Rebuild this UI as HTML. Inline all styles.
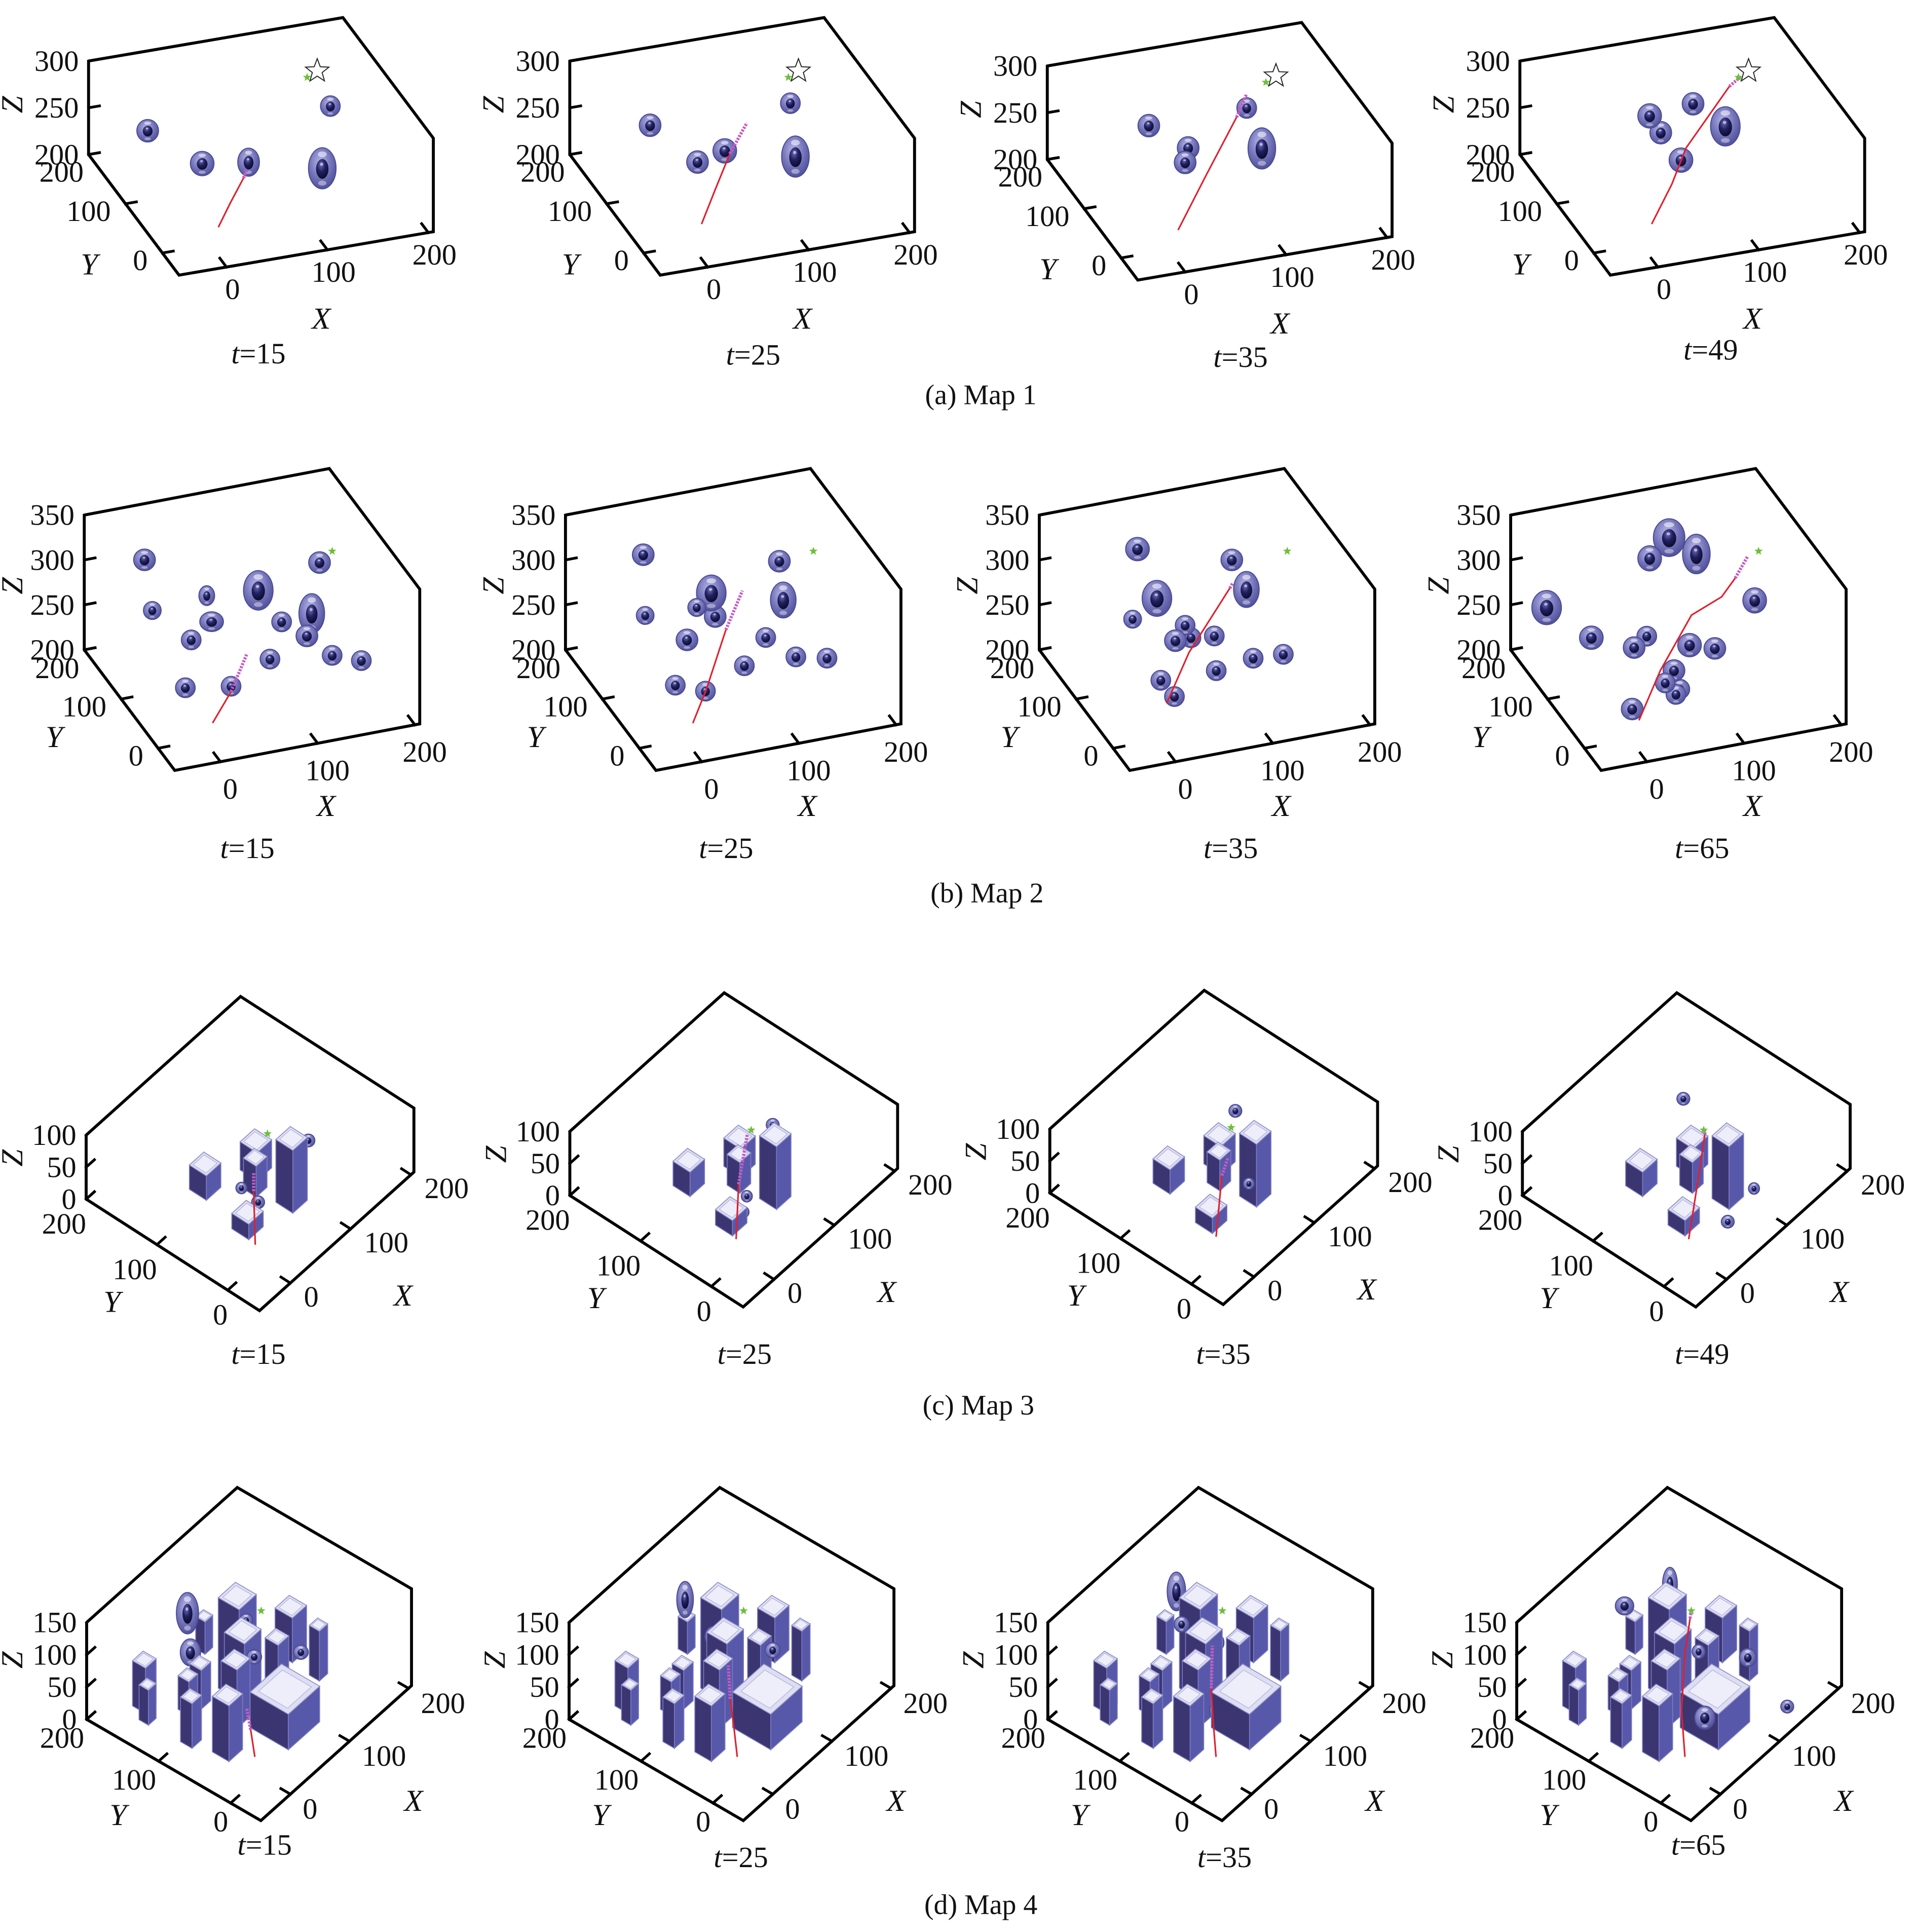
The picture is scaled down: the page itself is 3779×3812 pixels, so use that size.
<!DOCTYPE html>
<html>
<head>
<meta charset="utf-8">
<style>
html,body{margin:0;padding:0;background:#fff;}
svg{display:block;}
text{font-family:"Liberation Serif","DejaVu Serif",serif;fill:#111;}
</style>
</head>
<body>
<svg id="fig" xmlns="http://www.w3.org/2000/svg" width="3779" height="3812" viewBox="0 0 1556 1570" preserveAspectRatio="none">
<defs>
<radialGradient id="outerG" cx="42%" cy="35%" r="70%">
<stop offset="0" stop-color="#b4b4e6"/><stop offset="0.55" stop-color="#7474ba"/><stop offset="1" stop-color="#4c4c98"/>
</radialGradient>
<radialGradient id="coreG" cx="40%" cy="30%" r="70%">
<stop offset="0" stop-color="#6a6ab0"/><stop offset="0.5" stop-color="#202060"/><stop offset="1" stop-color="#0c0c30"/>
</radialGradient>
</defs>
<g id="root"></g>
</svg>
<script>
// ---------- Map 1 data (y fixed plane) ----------
const map1Offsets = [[0,0],[391,0],[779,4],[1163,0]];
const map1TLabels = ["t=15","t=25","t=35","t=49"];
const map1Spheres = [
 [[-25,100,274,11,12],[29,100,229,12,13],[75,100,222,11,15],[148,100,202,14,22],[156,100,267,10,11]],
 [[-4,100,276,11,12],[43,100,228,11,12],[70,100,235,12,13],[135,100,274,10,11],[140,100,216,14,22]],
 [[17,100,277,11,12],[56,100,246,11,12],[53,100,231,11,12],[114,100,278,10,11],[129,100,232,14,22]],
 [[45,100,277,12,13],[56,100,257,11,12],[88,100,282,11,12],[120,100,252,15,21],[76,100,224,12,13]]
];
const map1Red = [
 [[45,100,158],[57,100,182],[70,100,206]],
 [[47,100,161],[60,100,194],[75,100,231]],
 [[46,100,160],[73,100,212],[104,100,270]],
 [[47,100,161],[67,100,200],[81,100,236],[124,100,294]]
];
const map1Magenta = [
 [[70,100,206],[73,100,214]],
 [[75,100,231],[92,100,261]],
 [[104,100,270],[114,100,293]],
 [[124,100,294],[136,100,303]]
];
const map1Goal = [143,100,307];
const map1Green = [133,100,302];

// ---------- Map 2 data ----------
const map2Offsets = [[0,0],[391,0],[776,0],[1159,0]];
const map2TLabels = ["t=15","t=25","t=35","t=65"];
const map2Spheres = [
 [[-23,100,350,11,12],[-15,100,292,9,10],[41,100,297,8,11],[46,100,267,12,11],[25,100,251,10,11],[94,100,292,15,22],[157,100,310,11,12],[118,100,252,10,11],[149,100,255,13,22],[144,100,231,11,12],[106,100,213,10,11],[170,100,204,10,11],[200,100,192,10,11],[19,100,199,10,11],[66,100,191,10,11]],
 [[-5,100,352,11,12],[-3,100,284,9,10],[50,100,282,9,10],[65,100,295,15,20],[69,100,268,11,12],[40,100,248,11,12],[28,100,200,10,11],[59,100,187,10,11],[99,100,207,10,11],[121,100,234,10,11],[135,100,316,11,12],[139,100,272,13,20],[152,100,206,10,11],[184,100,198,10,11]],
 [[16,100,354,12,13],[11,100,277,9,10],[36,100,295,15,20],[65,100,259,10,11],[55,100,244,11,12],[71,100,244,10,11],[95,100,241,10,11],[135,100,208,10,11],[166,100,206,10,11],[97,100,202,10,11],[40,100,203,10,11],[54,100,182,10,11],[113,100,322,11,12],[128,100,286,13,20]],
 [[-48,100,302,15,19],[-2,100,259,12,13],[42,100,239,11,12],[55,100,249,10,11],[78,100,354,16,21],[58,100,335,12,14],[106,100,330,14,22],[166,100,266,12,14],[99,100,230,12,13],[125,100,221,11,12],[83,100,205,11,12],[89,100,183,10,11],[74,100,193,10,11],[85,100,178,10,11],[40,100,171,11,12]]
];
const map2Red = [
 [[47,100,154],[55,100,167],[66,100,185]],
 [[46,100,154],[60,100,189],[80,100,251]],
 [[46,100,176],[69,100,228],[111,100,291]],
 [[47,100,157],[69,100,208],[101,100,263],[132,100,277],[146,100,295]]
];
const map2Magenta = [
 [[66,100,185],[82,100,223]],
 [[80,100,251],[97,100,291]],
 [[111,100,291],[114,100,296]],
 [[146,100,295],[159,100,317]]
];
const map2Green = [170,100,320];

// ---------- Map 3 data ----------
const map3Offsets = [[0,0],[393,-3],[783,-5],[1167,-3]];
const map3TLabels = ["t=15","t=25","t=35","t=49"];
const map3Boxes = [[43,112,24,38],[99,88,24,44],[78,71,18,48],[89,29,24,98],[30,41,24,24]];
const map3Spheres = [
 [[34,53,50,6,9],[104,18,90,7,10],[44,38,30,7,10]],
 [[100,42,95,7,10],[50,36,30,6,9],[41,33,15,6,9]],
 [[90,58,110,7,10],[83,33,20,6,9]],
 [[68,74,140,7,10],[103,4,20,6,9],[56,1,10,7,10]]
];
const map3Red = [
 [[17,19,0],[46,46,40]],
 [[17,23,0],[47,45,45]],
 [[17,23,0],[56,48,45]],
 [[17,23,0],[58,45,40],[79,53,90]]
];
const map3Magenta = [
 [[46,46,40],[46,46,70]],
 [[47,45,45],[79,60,85]],
 [[56,48,45],[63,45,70]],
 [[79,53,90],[80,54,95]]
];
const map3Green = [76,52,100];

// ---------- Map 4 data ----------
const map4Offsets = [[0,0],[392,0],[781,0],[1162,0]];
const map4TLabels = ["t=15","t=25","t=35","t=65"];
const map4Boxes = [[-9,149,13,54],[5,165,18,70],[110,168,13,50],[88,104,29,140],[164,92,24,69],[74,85,28,110],[121,76,18,68],[51,76,22,90],[156,47,14,77],[76,28,53,55],[8,52,23,86],[-5,92,16,69],[30,125,15,52],[46,121,16,60]];
const map4Spheres = [
 [[50,142,120,12,32],[44,133,70,11,21],[74,69,80,8,11],[103,28,90,8,11],[81,86,120,7,10]],
 [[72,139,125,9,28],[75,101,90,10,16],[73,91,60,9,14],[113,51,70,8,12]],
 [[86,133,130,10,30],[90,83,80,10,15],[59,52,20,10,16],[74,116,100,8,12]],
 [[63,143,120,10,14],[96,107,150,8,26],[97,68,70,7,11],[123,21,70,9,14],[130,-28,20,7,10],[66,34,15,11,18],[65,80,70,8,12]]
];
const map4Red = [
 [[19,23,0],[29,37,25]],
 [[19,23,0],[28,35,30],[40,50,55]],
 [[19,23,0],[35,40,30],[50,55,60]],
 [[19,23,0],[40,45,40],[70,65,90],[85,70,130]]
];
const map4Magenta = [
 [[29,37,25],[33,46,50]],
 [[40,50,55],[55,65,85]],
 [[50,55,60],[70,70,100]],
 [[85,70,130],[87,70,138]]
];
const map4Green = [87,70,140];

// ---------- tick values ----------
const xTicks = [0,100,200];
const yTicks = [0,100,200];
const zTicks1 = [200,250,300];
const zTicks2 = [200,250,300,350];
const zTicks3 = [0,50,100];
const zTicks4 = [0,50,100,150];

const NS = "http://www.w3.org/2000/svg";
const root = document.getElementById("root");
function mk(tag, parent){ const e=document.createElementNS(NS,tag); parent.appendChild(e); return e; }
function setA(e, o){ for(const k in o) e.setAttribute(k,o[k]); }

const maps = [
 {key:"map1", O:[170.5,199], ex:[0.82,-0.14], ey:[-0.30,-0.40], ez:-0.76, z0:200, xr:[-47,205], yr:[-45,200], zr:[200,300], zt:zTicks1, hs:0.8,
  offs:map1Offsets, tl:map1TLabels, tpos:[[210,287],[612,288],[1008,290],[1390,284]], spheres:map1Spheres, red:map1Red, mag:map1Magenta, boxes:null, green:map1Green, goal:map1Goal,
  yOff:[-12,6], yTop:[-4,14], yAnchor:"end", xOff:[5,18], xAnchor:"middle", titles:{Y:[72.5,215],X:[261,259],Z:[10,85]}},
 {key:"map2", O:[165.6,601], ex:[0.79,-0.15], ey:[-0.30,-0.40], ez:-0.73, z0:200, xr:[-47,205], yr:[-45,200], zr:[200,350], zt:zTicks2, hs:0.8,
  offs:map2Offsets, tl:map2TLabels, tpos:[[201,689],[590,689],[1000,689],[1383,689]], spheres:map2Spheres, red:map2Red, mag:map2Magenta, boxes:null, green:map2Green, goal:null,
  yOff:[-12,6], yTop:[-4,15], yAnchor:"end", xOff:[8,22], xAnchor:"middle", titles:{Y:[44,599],X:[265,655],Z:[10,476]}},
 {key:"map3", O:[210,1026], ex:[0.49,-0.44], ey:[-0.575,-0.37], ez:-0.52, z0:0, xr:[-51,205], yr:[-45,200], zr:[0,100], zt:zTicks3, hs:0.75,
  offs:map3Offsets, tl:map3TLabels, tpos:[[210,1100],[605,1100],[994,1100],[1383,1100]], spheres:map3Spheres, red:map3Red, mag:map3Magenta, boxes:map3Boxes, green:map3Green, goal:null,
  yOff:[0,20], yTop:[0,20], yAnchor:"end", xOff:[11,11], xAnchor:"start", titles:{Y:[91,1058],X:[327.5,1053],Z:[10,941]}},
 {key:"map4", O:[211.4,1443.7], ex:[0.48,-0.43], ey:[-0.585,-0.34], ez:-0.525, z0:0, xr:[-50,205], yr:[-42,200], zr:[0,150], zt:zTicks4, hs:0.75,
  offs:map4Offsets, tl:map4TLabels, tpos:[[215,1499],[602,1509],[995,1509],[1380,1499]], spheres:map4Spheres, red:map4Red, mag:map4Magenta, boxes:map4Boxes, green:map4Green, goal:null,
  yOff:[-2,15], yTop:[-2,15], yAnchor:"end", xOff:[10,12], xAnchor:"start", titles:{Y:[96,1475],X:[336,1463.5],Z:[10,1349]}}
];
const captions = [["(a) Map 1",797,321],["(b) Map 2",802,726],["(c) Map 3",795,1142],["(d) Map 4",797,1548]];

function projector(m, off){
  return function(x,y,z){
    return [m.O[0]+off[0]+x*m.ex[0]+y*m.ey[0], m.O[1]+off[1]+x*m.ex[1]+y*m.ey[1]+(z-m.z0)*m.ez];
  };
}
function pts(arr){ return arr.map(p=>p[0].toFixed(2)+","+p[1].toFixed(2)).join(" "); }
function starPts(cx,cy,R){
  const r=R*0.42, out=[];
  for(let i=0;i<10;i++){ const a=-Math.PI/2+i*Math.PI/5, rr=i%2?r:R; out.push([cx+rr*Math.cos(a), cy+rr*Math.sin(a)]); }
  return pts(out);
}
function drawSphere(g, P, m, s){
  const c=P(s[0],s[1],s[2]); const rx=s[3]*m.hs, ry=s[4]*Math.abs(m.ez);
  const sg=mk("g",g);
  
  
  const o=mk("ellipse",sg); setA(o,{cx:c[0],cy:c[1],rx:rx,ry:ry,fill:"url(#outerG)",stroke:"#4a4a94","stroke-width":0.8});
  const h1=mk("ellipse",sg); setA(h1,{cx:c[0],cy:c[1]-ry*0.68,rx:rx*0.32,ry:ry*0.14,fill:"#fff",opacity:0.55});
  const h2=mk("ellipse",sg); setA(h2,{cx:c[0],cy:c[1]+ry*0.72,rx:rx*0.3,ry:ry*0.12,fill:"#fff",opacity:0.4});
  const k=mk("ellipse",sg); setA(k,{cx:c[0],cy:c[1]+ry*0.03,rx:rx*0.45,ry:ry*0.48,fill:"url(#coreG)"});
  const h3=mk("ellipse",sg); setA(h3,{cx:c[0]-rx*0.05,cy:c[1]-ry*0.2,rx:rx*0.12,ry:ry*0.08,fill:"#c8c8f0",opacity:0.8});
}
function drawBox(g, P, b){
  const x0=b[0]-b[2]/2, x1=b[0]+b[2]/2, y0=b[1]-b[2]/2, y1=b[1]+b[2]/2, h=b[3];
  const bg=mk("g",g);
  
  
  const left=mk("polygon",bg); setA(left,{points:pts([P(x0,y0,0),P(x0,y1,0),P(x0,y1,h),P(x0,y0,h)]),fill:"#3b3572",stroke:"#7a7ac0","stroke-width":0.7});
  const right=mk("polygon",bg); setA(right,{points:pts([P(x0,y0,0),P(x1,y0,0),P(x1,y0,h),P(x0,y0,h)]),fill:"#5858aa",stroke:"#7a7ac0","stroke-width":0.7});
  const top=mk("polygon",bg); setA(top,{points:pts([P(x0,y0,h),P(x1,y0,h),P(x1,y1,h),P(x0,y1,h)]),fill:"#dedef3",stroke:"#9090c8","stroke-width":0.7});
  const inner=mk("polygon",bg); setA(inner,{points:pts([P(x0+b[2]*0.12,y0+b[2]*0.12,h),P(x1-b[2]*0.12,y0+b[2]*0.12,h),P(x1-b[2]*0.12,y1-b[2]*0.12,h),P(x0+b[2]*0.12,y1-b[2]*0.12,h)]),fill:"#eeeefa",stroke:"#b0b0dc","stroke-width":0.5});
}
function line(g,a,b,w){ const l=mk("line",g); setA(l,{x1:a[0],y1:a[1],x2:b[0],y2:b[1],stroke:"#000","stroke-width":w,"stroke-linecap":"square"}); return l; }
function txt(g,s,x,y,size,anchor,italic){
  const t=mk("text",g); setA(t,{x:x,y:y,"font-size":size,"text-anchor":anchor,"dominant-baseline":"central"});
  if(italic) t.setAttribute("font-style","italic");
  t.textContent=s; return t;
}

maps.forEach((m,mi)=>{
  const mg=mk("g",root);
  
  
  m.offs.forEach((off,pi)=>{
    const P=projector(m,off);
    const g=mk("g",mg);
    
    
    const [xa,xb]=m.xr,[ya,yb]=m.yr,[za,zb]=m.zr;
    // frame
    const frame=mk("polyline",g);
    
    
    setA(frame,{points:pts([P(xa,yb,zb),P(xb,yb,zb),P(xb,ya,zb),P(xb,ya,za),P(xa,ya,za),P(xa,yb,za),P(xa,yb,zb)]),fill:"none",stroke:"#000","stroke-width":2.4,"stroke-linejoin":"miter"});
    // tick direction helpers
    function unit(v){ const L=Math.hypot(v[0],v[1]); return [v[0]/L,v[1]/L]; }
    const ux=unit(m.ex), uy=unit(m.ey);
    const TL=9;
    // z ticks + labels
    m.zt.forEach(z=>{
      const p=P(xa,yb,z);
      const tk=line(g,p,[p[0]+ux[0]*TL,p[1]+ux[1]*TL],2.2);
      
      
      const t=txt(g,String(z),p[0]-8,p[1],24,"end",false);
      
      
    });
    // y ticks + labels
    yTicks.forEach((y,i)=>{
      const p=P(xa,y,za);
      const tk=line(g,p,[p[0]+ux[0]*TL,p[1]+ux[1]*TL],2.2);
      
      
      const o=(i===yTicks.length-1)?m.yTop:m.yOff;
      const t=txt(g,String(y),p[0]+o[0],p[1]+o[1],24,m.yAnchor,false);
      
      
    });
    // x ticks + labels
    xTicks.forEach(x=>{
      const p=P(x,ya,za);
      const tk=line(g,p,[p[0]+uy[0]*TL,p[1]+uy[1]*TL],2.2);
      
      
      const t=txt(g,String(x),p[0]+m.xOff[0],p[1]+m.xOff[1],24,m.xAnchor,false);
      
      
    });
    // axis titles
    const tx=txt(g,"X",m.titles.X[0]+off[0],m.titles.X[1]+off[1],25,"middle",true);
    
    
    const ty=txt(g,"Y",m.titles.Y[0]+off[0],m.titles.Y[1]+off[1],25,"middle",true);
    
    
    const tz=txt(g,"Z",0,0,25,"middle",true);
    tz.setAttribute('transform','translate('+(m.titles.Z[0]+off[0])+','+(m.titles.Z[1]+off[1])+') rotate(-90)');
    
    
    // obstacles
    const og=mk("g",g);
    
    
    const items=[];
    if(m.boxes) m.boxes.forEach(b=>items.push({d:b[0]+b[1],t:"b",v:b}));
    m.spheres[pi].forEach(s=>items.push({d:s[0]+s[1]-0.01,t:"s",v:s}));
    items.sort((a,b)=>b.d-a.d);
    items.forEach(it=>{ if(it.t==="b") drawBox(og,P,it.v); else drawSphere(og,P,m,it.v); });
    // trajectory
    const red=mk("polyline",g);
    
    
    setA(red,{points:pts(m.red[pi].map(q=>P(q[0],q[1],q[2]))),fill:"none",stroke:"#e0202e","stroke-width":1.3});
    const mag=mk("polyline",g);
    
    
    setA(mag,{points:pts(m.mag[pi].map(q=>P(q[0],q[1],q[2]))),fill:"none",stroke:"#c45cc4","stroke-width":2.6,"stroke-dasharray":"1.6,1"});
    // goal markers
    if(m.goal){
      const gp=P(m.goal[0],m.goal[1],m.goal[2]);
      const ws=mk("polygon",g);
      
      
      setA(ws,{points:starPts(gp[0],gp[1],10),fill:"#fff",stroke:"#222","stroke-width":0.8});
    }
    const gp2=P(m.green[0],m.green[1],m.green[2]);
    const gs=mk("polygon",g);
    
    
    setA(gs,{points:starPts(gp2[0],gp2[1],3.6),fill:"#6cbf3a"});
    // time label
    const tp=m.tpos[pi];
    const tt=mk("text",g);
    
    
    setA(tt,{x:tp[0],y:tp[1],"font-size":24,"text-anchor":"middle","dominant-baseline":"central"});
    const it=mk("tspan",tt); it.setAttribute("font-style","italic"); it.textContent="t";
    const rest=mk("tspan",tt); rest.textContent=m.tl[pi].slice(1);
  });
  const c=captions[mi];
  const ct=txt(mg,c[0],c[1],c[2],23,"middle",false);
  
  
});
</script>
</body>
</html>
